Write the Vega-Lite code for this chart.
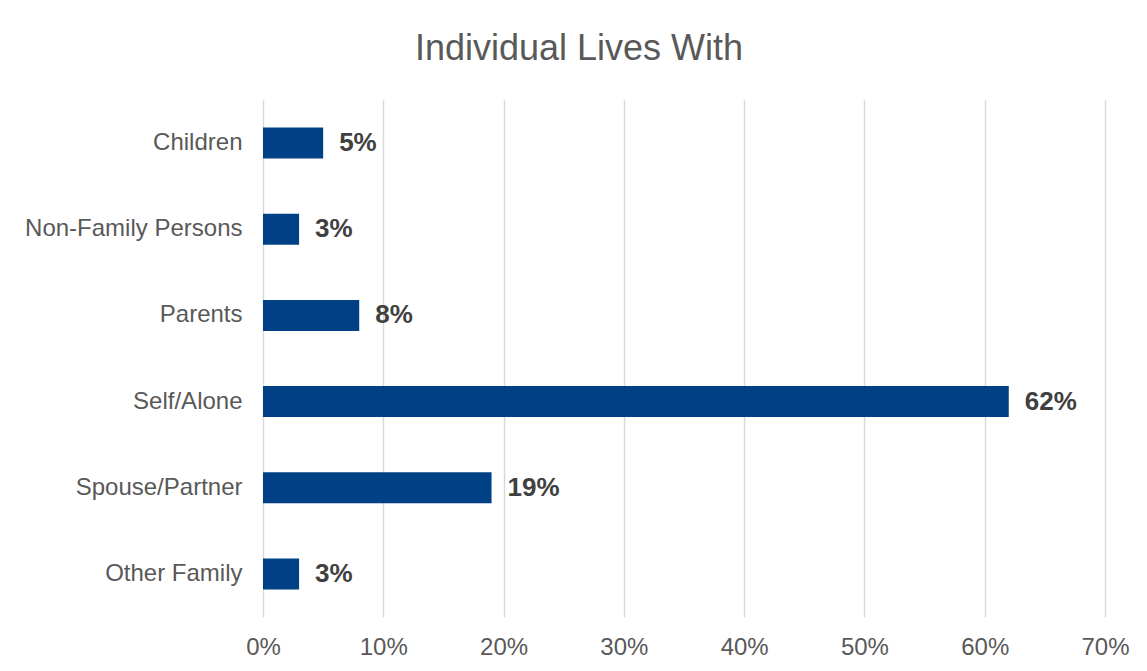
{
  "$schema": "https://vega.github.io/schema/vega-lite/v6.json",
  "width": 842,
  "height": 517,
  "autosize": {"type": "none"},
  "padding": {"left": 263, "top": 100, "right": 42, "bottom": 54},
  "background": "white",
  "title": {
    "text": "Individual Lives With",
    "anchor": "middle",
    "frame": "group",
    "dx": -105,
    "offset": 4,
    "baseline": "alphabetic",
    "fontSize": 36,
    "font": "Liberation Sans",
    "fontWeight": "normal",
    "color": "#595959"
  },
  "config": {"view": {"stroke": null}},
  "data": {
    "values": [
      {"category": "Children", "value": 0.05},
      {"category": "Non-Family Persons", "value": 0.03},
      {"category": "Parents", "value": 0.08},
      {"category": "Self/Alone", "value": 0.62},
      {"category": "Spouse/Partner", "value": 0.19},
      {"category": "Other Family", "value": 0.03}
    ]
  },
  "encoding": {
    "y": {
      "field": "category",
      "type": "nominal",
      "sort": null,
      "scale": {"paddingInner": 0.64, "paddingOuter": 0.32},
      "axis": {
        "title": null,
        "domain": false,
        "ticks": false,
        "tickSize": 0,
        "labelFont": "Liberation Sans",
        "labelFontSize": 24,
        "labelColor": "#595959",
        "labelPadding": 21,
        "labelLimit": 400
      }
    },
    "x": {
      "field": "value",
      "type": "quantitative",
      "scale": {"domain": [0, 0.7], "nice": false, "zero": true},
      "axis": {
        "title": null,
        "values": [0, 0.1, 0.2, 0.3, 0.4, 0.5, 0.6, 0.7],
        "format": ".0%",
        "grid": true,
        "gridColor": "#d9d9d9",
        "gridWidth": 1.5,
        "domain": false,
        "ticks": false,
        "tickSize": 0,
        "labelFont": "Liberation Sans",
        "labelFontSize": 24,
        "labelColor": "#595959",
        "labelPadding": 18,
        "labelFlush": false
      }
    }
  },
  "layer": [
    {"mark": {"type": "bar", "color": "#004186"}},
    {
      "mark": {
        "type": "text",
        "align": "left",
        "baseline": "middle",
        "dx": 16,
        "font": "Liberation Sans",
        "fontSize": 26,
        "fontWeight": "bold",
        "color": "#404040"
      },
      "encoding": {
        "text": {"field": "value", "type": "quantitative", "format": ".0%"}
      }
    }
  ]
}
